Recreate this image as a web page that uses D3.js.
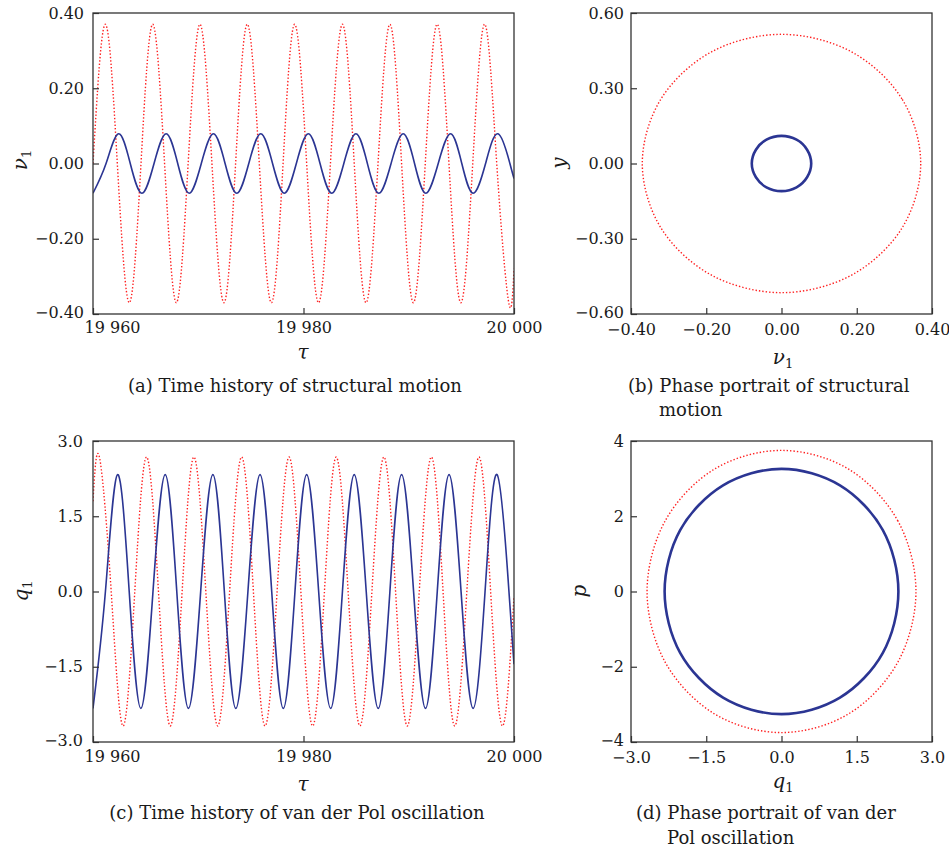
<!DOCTYPE html>
<html>
<head>
<meta charset="utf-8">
<script src="https://cdn.jsdelivr.net/npm/d3@7"></script>
<style>
  html, body { margin: 0; padding: 0; background: #fff; }
  svg { display: block; }
  text { font-family: "DejaVu Serif", serif; fill: #1a1a1a; }
</style>
</head>
<body>
<svg id="fig" width="949" height="851"></svg>
<script>
// ---- Structural displacement nu_1 versus tau (panel a), key points [tau, value]
const nuRed = [
  [19960.00, 0.00], [19961.17, 0.37], [19962.31, 0.00], [19963.45, -0.37],
  [19964.56, 0.00], [19965.67, 0.37], [19966.80, 0.00], [19967.92, -0.37],
  [19969.04, 0.00], [19970.16, 0.37], [19971.30, 0.00], [19972.44, -0.37],
  [19973.55, 0.00], [19974.66, 0.37], [19975.80, 0.00], [19976.95, -0.37],
  [19978.06, 0.00], [19979.16, 0.37], [19980.30, 0.00], [19981.43, -0.37],
  [19982.56, 0.00], [19983.70, 0.37], [19984.82, 0.00], [19985.94, -0.37],
  [19987.08, 0.00], [19988.21, 0.37], [19989.32, 0.00], [19990.44, -0.37],
  [19991.57, 0.00], [19992.70, 0.37], [19993.82, 0.00], [19994.95, -0.37],
  [19996.08, 0.00], [19997.22, 0.37], [19998.36, 0.00], [19999.50, -0.37],
  [20000.00, -0.28]
];
const nuBlue = [
  [19960.00, -0.079], [19961.24, 0.00], [19962.43, 0.079], [19963.54, 0.00],
  [19964.65, -0.079], [19965.80, 0.00], [19966.95, 0.079], [19968.05, 0.00],
  [19969.14, -0.079], [19970.29, 0.00], [19971.44, 0.079], [19972.55, 0.00],
  [19973.66, -0.079], [19974.80, 0.00], [19975.94, 0.079], [19977.06, 0.00],
  [19978.18, -0.079], [19979.32, 0.00], [19980.46, 0.079], [19981.57, 0.00],
  [19982.68, -0.079], [19983.83, 0.00], [19984.98, 0.079], [19986.07, 0.00],
  [19987.16, -0.079], [19988.32, 0.00], [19989.47, 0.079], [19990.55, 0.00],
  [19991.62, -0.079], [19992.80, 0.00], [19993.97, 0.079], [19995.04, 0.00],
  [19996.11, -0.079], [19997.30, 0.00], [19998.48, 0.079], [19999.61, 0.00],
  [20000.00, -0.040]
];

// ---- Structural phase portrait (panel b), [nu_1, y] around each orbit
const orbitRedB = [
  [0.370, 0.000], [0.320, 0.258], [0.185, 0.446], [0.000, 0.515],
  [-0.185, 0.446], [-0.320, 0.258], [-0.370, 0.000], [-0.320, -0.258],
  [-0.185, -0.446], [0.000, -0.515], [0.185, -0.446], [0.320, -0.258]
];
const orbitBlueB = [
  [0.079, 0.000], [0.068, 0.055], [0.040, 0.095], [0.000, 0.110],
  [-0.040, 0.095], [-0.068, 0.055], [-0.079, 0.000], [-0.068, -0.055],
  [-0.040, -0.095], [0.000, -0.110], [0.040, -0.095], [0.068, -0.055]
];

// ---- van der Pol variable q_1 versus tau (panel c)
const qRed = [
  [19960.00, 1.80], [19960.61, 2.68], [19961.73, 0.00], [19962.85, -2.68],
  [19963.97, 0.00], [19965.09, 2.68], [19966.22, 0.00], [19967.34, -2.68],
  [19968.47, 0.00], [19969.59, 2.68], [19970.72, 0.00], [19971.85, -2.68],
  [19972.98, 0.00], [19974.12, 2.68], [19975.24, 0.00], [19976.35, -2.68],
  [19977.49, 0.00], [19978.63, 2.68], [19979.75, 0.00], [19980.87, -2.68],
  [19981.99, 0.00], [19983.11, 2.68], [19984.24, 0.00], [19985.36, -2.68],
  [19986.50, 0.00], [19987.64, 2.68], [19988.75, 0.00], [19989.86, -2.68],
  [19991.00, 0.00], [19992.15, 2.68], [19993.26, 0.00], [19994.37, -2.68],
  [19995.52, 0.00], [19996.67, 2.68], [19997.78, 0.00], [19998.90, -2.68],
  [20000.00, -0.10]
];
const qBlue = [
  [19960.00, -2.33], [19961.18, 0.00], [19962.33, 2.33], [19963.44, 0.00],
  [19964.55, -2.33], [19965.70, 0.00], [19966.86, 2.33], [19967.96, 0.00],
  [19969.07, -2.33], [19970.23, 0.00], [19971.39, 2.33], [19972.48, 0.00],
  [19973.57, -2.33], [19974.72, 0.00], [19975.87, 2.33], [19976.98, 0.00],
  [19978.08, -2.33], [19979.19, 0.00], [19980.30, 2.33], [19981.44, 0.00],
  [19982.58, -2.33], [19983.70, 0.00], [19984.82, 2.33], [19985.96, 0.00],
  [19987.10, -2.33], [19988.21, 0.00], [19989.32, 2.33], [19990.46, 0.00],
  [19991.59, -2.33], [19992.71, 0.00], [19993.83, 2.33], [19994.97, 0.00],
  [19996.11, -2.33], [19997.25, 0.00], [19998.39, 2.33], [19999.52, 0.00],
  [20000.00, -1.45]
];

// ---- van der Pol phase portrait (panel d), [q_1, p]
const orbitRedD = [
  [2.68, 0.000], [2.32, 1.875], [1.34, 3.25], [0.00, 3.75],
  [-1.34, 3.25], [-2.32, 1.875], [-2.68, 0.000], [-2.32, -1.875],
  [-1.34, -3.25], [0.00, -3.75], [1.34, -3.25], [2.32, -1.875]
];
const orbitBlueD = [
  [2.33, 0.00], [2.02, 1.63], [1.165, 2.82], [0.00, 3.26],
  [-1.165, 2.82], [-2.02, 1.63], [-2.33, 0.00], [-2.02, -1.63],
  [-1.165, -2.82], [0.00, -3.26], [1.165, -2.82], [2.02, -1.63]
];

// ---- Axis ticks and labels
const tauTicks = [19960, 19980, 20000];
const tauTickLabels = ["19 960", "19 980", "20 000"];
const nuTicksA = [-0.4, -0.2, 0, 0.2, 0.4];
const yTicksB = [-0.6, -0.3, 0, 0.3, 0.6];
const nuTicksB = [-0.4, -0.2, 0, 0.2, 0.4];
const qTicks = [-3, -1.5, 0, 1.5, 3];
const pTicks = [-4, -2, 0, 2, 4];

const RED = "#ff1f1f";
const BLUE = "#2b3593";

const svg = d3.select("#fig");
svg.append("rect").attr("width", 949).attr("height", 851).attr("fill", "#fff");

let clipCount = 0;

function panel(opt) {
  const g = svg.append("g").attr("transform", `translate(${opt.left},${opt.top})`);
  const x = d3.scaleLinear().domain(opt.xDomain).range([0, opt.width]);
  const y = d3.scaleLinear().domain(opt.yDomain).range([opt.height, 0]);

  const id = "clip" + (clipCount++);
  g.append("clipPath").attr("id", id)
    .append("rect").attr("width", opt.width).attr("height", opt.height);
  const plot = g.append("g").attr("clip-path", `url(#${id})`);

  // y axis, inward ticks
  const yAxis = d3.axisLeft(y).tickValues(opt.yTicks).tickFormat(opt.yFmt)
    .tickSizeInner(-6).tickSizeOuter(0).tickPadding(opt.yPad);
  const ga = g.append("g").call(yAxis);
  ga.select(".domain").remove();
  ga.selectAll(".tick line").attr("stroke", "#333").attr("stroke-width", 1.2);
  ga.selectAll(".tick text").attr("font-size", 16).attr("fill", "#1a1a1a")
    .attr("font-family", '"DejaVu Serif", serif');
  // lift the lowest y label a little so it clears the first x label
  ga.selectAll(".tick text").filter((d, i) => i === 0).attr("y", -2);

  // x axis, inward ticks
  const xAxis = d3.axisBottom(x).tickValues(opt.xTicks).tickFormat(opt.xFmt)
    .tickSizeInner(-6).tickSizeOuter(0).tickPadding(opt.xPad);
  const gx = g.append("g").attr("transform", `translate(0,${opt.height})`).call(xAxis);
  gx.select(".domain").remove();
  gx.selectAll(".tick line").attr("stroke", "#333").attr("stroke-width", 1.2);
  gx.selectAll(".tick text").attr("font-size", 16).attr("fill", "#1a1a1a")
    .attr("font-family", '"DejaVu Serif", serif');
  if (opt.firstXShift) {
    gx.selectAll(".tick text").filter((d, i) => i === 0).attr("dx", opt.firstXShift);
  }

  // series
  opt.series.forEach(s => {
    const line = d3.line().x(d => x(d[0])).y(d => y(d[1]))
      .curve(s.closed ? d3.curveCardinalClosed.tension(0) : d3.curveNatural);
    const p = plot.append("path").datum(s.data).attr("d", line)
      .attr("fill", "none").attr("stroke", s.color).attr("stroke-width", s.width);
    if (s.dash) p.attr("stroke-dasharray", s.dash);
  });

  // frame
  g.append("rect").attr("width", opt.width).attr("height", opt.height)
    .attr("fill", "none").attr("stroke", "#333").attr("stroke-width", 1.3);
  return g;
}

const f2 = d3.format(".2f");
const f1 = d3.format(".1f");
const f0 = d3.format("d");
const tauFmt = d => tauTickLabels[tauTicks.indexOf(d)];

// (a) time history of structural motion
panel({
  left: 93, top: 13, width: 421, height: 301,
  xDomain: [19960, 20000], yDomain: [-0.4, 0.4],
  xTicks: tauTicks, yTicks: nuTicksA, xFmt: tauFmt, yFmt: f2,
  xPad: 8, yPad: 9, firstXShift: 19,
  series: [
    { data: nuRed, color: RED, width: 1.4, dash: "1.4 2" },
    { data: nuBlue, color: BLUE, width: 1.6 }
  ]
});

// (b) phase portrait of structural motion
panel({
  left: 631, top: 13, width: 301, height: 301,
  xDomain: [-0.4, 0.4], yDomain: [-0.6, 0.6],
  xTicks: nuTicksB, yTicks: yTicksB, xFmt: f2, yFmt: f2,
  xPad: 10, yPad: 7,
  series: [
    { data: orbitRedB, color: RED, width: 1.4, dash: "1.4 2", closed: true },
    { data: orbitBlueB, color: BLUE, width: 2.6, closed: true }
  ]
});

// (c) time history of van der Pol oscillation
panel({
  left: 93, top: 441, width: 421, height: 301,
  xDomain: [19960, 20000], yDomain: [-3, 3],
  xTicks: tauTicks, yTicks: qTicks, xFmt: tauFmt, yFmt: f1,
  xPad: 9, yPad: 10, firstXShift: 19,
  series: [
    { data: qRed, color: RED, width: 1.4, dash: "1.4 2" },
    { data: qBlue, color: BLUE, width: 1.6 }
  ]
});

// (d) phase portrait of van der Pol oscillation
panel({
  left: 631, top: 441, width: 301, height: 301,
  xDomain: [-3, 3], yDomain: [-4, 4],
  xTicks: qTicks, yTicks: pTicks, xFmt: f1, yFmt: f0,
  xPad: 10, yPad: 7,
  series: [
    { data: orbitRedD, color: RED, width: 1.4, dash: "1.4 2", closed: true },
    { data: orbitBlueD, color: BLUE, width: 2.6, closed: true }
  ]
});

// ---- axis titles
function titleWithSub(x, y, sym, sub, rotate) {
  const t = svg.append("text").attr("font-size", 20).attr("text-anchor", "middle")
    .attr("transform", rotate ? `translate(${x},${y}) rotate(-90)` : `translate(${x},${y})`);
  t.append("tspan").attr("font-style", "italic").text(sym);
  if (sub) t.append("tspan").attr("font-size", 13).attr("dy", 4).text(sub);
  return t;
}
titleWithSub(27, 160, "ν", "1", true);
titleWithSub(303, 359, "τ", null, false);
titleWithSub(566, 163, "y", null, true);
titleWithSub(783, 364, "ν", "1", false);
titleWithSub(28, 591, "q", "1", true);
titleWithSub(303, 791, "τ", null, false);
titleWithSub(586, 591, "p", null, true);
titleWithSub(783, 788, "q", "1", false);

// ---- captions
function caption(x, y, str, anchor) {
  svg.append("text").attr("x", x).attr("y", y).attr("font-size", 18)
    .attr("text-anchor", anchor || "start").text(str);
}
caption(295, 392, "(a) Time history of structural motion", "middle");
caption(628, 392, "(b) Phase portrait of structural");
caption(659, 416, "motion");
caption(297, 819, "(c) Time history of van der Pol oscillation", "middle");
caption(636, 819, "(d) Phase portrait of van der");
caption(667, 844, "Pol oscillation");
</script>
</body>
</html>
